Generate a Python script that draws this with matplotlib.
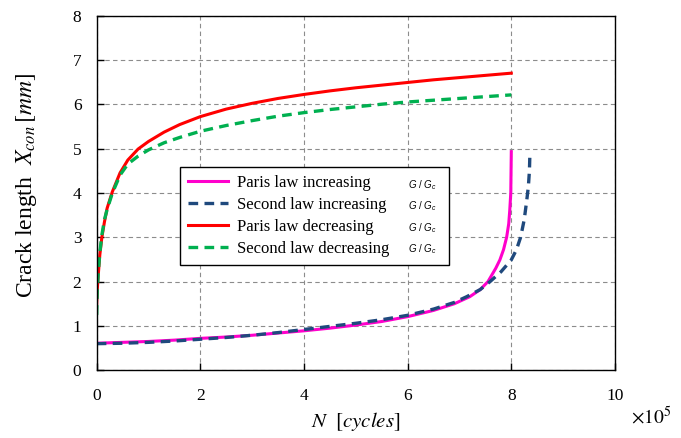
import matplotlib
matplotlib.use('Agg')
import matplotlib.pyplot as plt

plt.rcParams['font.family'] = ['Liberation Serif', 'DejaVu Serif']
plt.rcParams['mathtext.fontset'] = 'stix'
plt.rcParams['mathtext.it'] = 'Liberation Sans:italic'
plt.rcParams['mathtext.rm'] = 'Liberation Sans'

# Number of cycles (x 10^5) and crack length (mm)
n_paris_inc = [0, 0.5, 1.0, 1.5, 2.0, 2.5, 3.0, 3.5, 4.0, 4.5, 5.0, 5.5, 6.0, 6.5,
               6.9, 7.2, 7.4, 7.55, 7.7, 7.78, 7.85, 7.91, 7.95, 7.97, 7.99, 8.0]
x_paris_inc = [0.61, 0.63, 0.65, 0.68, 0.72, 0.75, 0.79, 0.84, 0.89, 0.95, 1.02, 1.1, 1.21, 1.35,
               1.5, 1.66, 1.82, 2.0, 2.3, 2.49, 2.72, 3.0, 3.3, 3.6, 4.0, 4.93]

n_second_inc = [0, 0.5, 1.0, 1.5, 2.0, 2.5, 3.0, 3.5, 4.0, 4.5, 5.0, 5.5, 6.0, 6.5,
                6.9, 7.14, 7.4, 7.59, 7.8, 8.0, 8.1, 8.18, 8.25, 8.3, 8.33, 8.35, 8.36]
x_second_inc = [0.6, 0.61, 0.63, 0.66, 0.70, 0.74, 0.79, 0.85, 0.92, 0.99, 1.06, 1.14, 1.24, 1.38,
                1.53, 1.66, 1.82, 2.0, 2.22, 2.49, 2.72, 3.0, 3.4, 3.85, 4.15, 4.5, 4.93]

n_paris_dec = [0, 0.01, 0.03, 0.06, 0.1, 0.15, 0.2, 0.3, 0.45, 0.6, 0.8, 1.0, 1.3, 1.6,
               2.0, 2.5, 3.0, 3.5, 4.0, 4.5, 5.0, 5.5, 6.0, 6.5, 7.0, 7.5, 8.0]
x_paris_dec = [1.5, 1.8, 2.15, 2.6, 3.0, 3.35, 3.65, 4.02, 4.45, 4.74, 4.99, 5.16, 5.37, 5.54,
               5.72, 5.89, 6.02, 6.13, 6.22, 6.30, 6.37, 6.43, 6.49, 6.55, 6.60, 6.65, 6.70]

n_second_dec = [0, 0.01, 0.03, 0.06, 0.1, 0.15, 0.2, 0.3, 0.45, 0.6, 0.8, 1.0, 1.3, 1.6,
                2.0, 2.5, 3.0, 3.5, 4.0, 4.5, 5.0, 5.5, 6.0, 6.5, 7.0, 7.5, 8.0]
x_second_dec = [1.25, 1.8, 2.2, 2.65, 3.05, 3.4, 3.62, 3.99, 4.4, 4.65, 4.83, 4.97, 5.13, 5.25,
                5.39, 5.52, 5.63, 5.73, 5.81, 5.88, 5.94, 6.0, 6.05, 6.09, 6.13, 6.17, 6.21]

labels = ['Paris law increasing', 'Second law increasing',
          'Paris law decreasing', 'Second law decreasing']
xticks = [0, 2, 4, 6, 8, 10]
yticks = [0, 1, 2, 3, 4, 5, 6, 7, 8]

fig = plt.figure(figsize=(6.81, 4.38), dpi=100)
ax = fig.add_axes([0.142, 0.1546, 0.761, 0.810])

ax.plot(n_paris_inc, x_paris_inc, color='#ff00cc', lw=2.2, label=labels[0])
ax.plot(n_second_inc, x_second_inc, color='#1f497d', lw=2.4, ls=(0, (2.9, 1.9)), label=labels[1])
ax.plot(n_paris_dec, x_paris_dec, color='#ff0000', lw=2.2, label=labels[2])
ax.plot(n_second_dec, x_second_dec, color='#00b050', lw=2.4, ls=(0, (2.9, 1.9)), label=labels[3])

ax.set_xlim(0, 10)
ax.set_ylim(0, 8)
ax.set_xticks(xticks)
ax.set_yticks(yticks)
ax.grid(True, color='#8c8c8c', lw=0.8, ls=(0, (4, 3)))
ax.tick_params(direction='in', length=5, width=1, labelsize=12.5, pad=11)
ax.tick_params(axis='x', pad=13)
for s in ax.spines.values():
    s.set_linewidth(1.0)
    s.set_color('black')

ax.set_xlabel(r'$N\ \ [cycles]$', fontsize=15)
ax.xaxis.set_label_coords(0.5, -0.112)
ax.set_ylabel(r'Crack length  $X_{con}\,[mm]$', fontsize=17)
ax.yaxis.set_label_coords(-0.112, 0.52)

fig.text(631 / 681, 1 - 417 / 438, r'$\times10^5$', fontsize=14, va='center', ha='left')

leg = ax.legend(loc='upper left', bbox_to_anchor=(0.2643, 0.6194 - 0.2267, 0.395, 0.2267),
                bbox_transform=fig.transFigure, mode='expand', fontsize=12,
                fancybox=False, framealpha=1, edgecolor='black', borderpad=0.5,
                handlelength=2.4, handletextpad=0.5, labelspacing=0.35, borderaxespad=0)
leg.get_frame().set_linewidth(1.0)

for yp in [185, 206.5, 228, 249.5]:
    t = fig.text(408 / 681, 1 - yp / 438, r'$G\ /\ G_c$', fontsize=7, va='center', ha='left')
    t.set_math_fontfamily('custom')

fig.savefig('out.png', dpi=100)
